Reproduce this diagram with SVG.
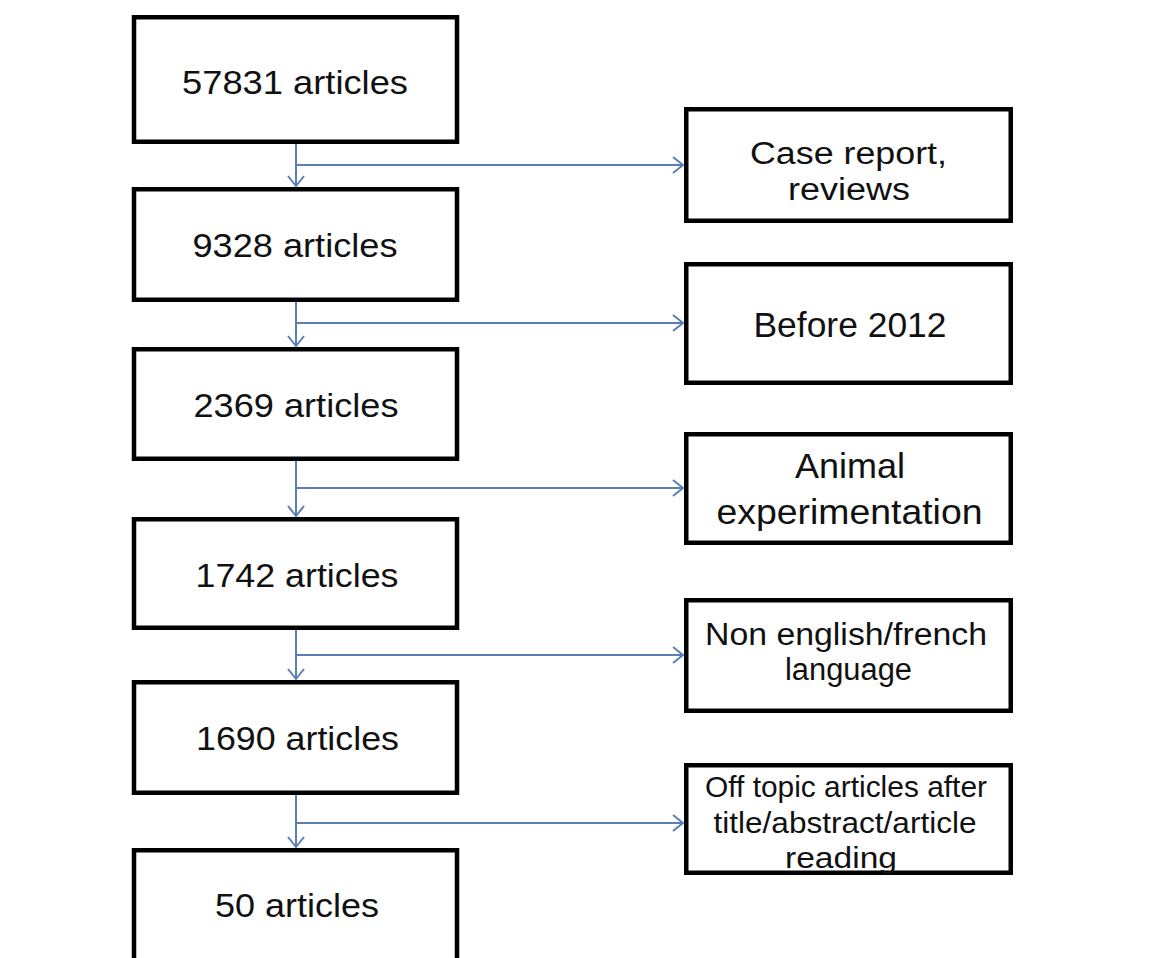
<svg xmlns="http://www.w3.org/2000/svg" width="1159" height="958" viewBox="0 0 1159 958">
<style>
.box{fill:#fff;stroke:#000;stroke-width:4.5}
.t{font-family:"Liberation Sans",Arial,sans-serif;fill:#111;text-anchor:middle}
.l{font-size:34px}
.r{font-size:35px}
.m{font-size:31px}
.s{font-size:29px}
.c{fill:none;stroke:#5a7fb8;stroke-width:2}
</style>
<defs>
<marker id="arr" markerUnits="userSpaceOnUse" markerWidth="16" markerHeight="22" viewBox="-13 -11 16 22" refX="0" refY="0" orient="auto">
<path d="M-10,-8 L0,0 L-10,8" fill="none" stroke="#5a7fb8" stroke-width="2"/>
</marker>
</defs>
<rect width="1159" height="958" fill="#fff"/>
<g id="connectors">
<line class="c" x1="296" y1="144" x2="296" y2="186" marker-end="url(#arr)"/>
<line class="c" x1="296" y1="165" x2="683" y2="165" marker-end="url(#arr)"/>
<line class="c" x1="296" y1="302" x2="296" y2="346" marker-end="url(#arr)"/>
<line class="c" x1="296" y1="323" x2="683" y2="323" marker-end="url(#arr)"/>
<line class="c" x1="296" y1="461" x2="296" y2="516" marker-end="url(#arr)"/>
<line class="c" x1="296" y1="488" x2="683" y2="488" marker-end="url(#arr)"/>
<line class="c" x1="296" y1="630" x2="296" y2="679" marker-end="url(#arr)"/>
<line class="c" x1="296" y1="655" x2="683" y2="655" marker-end="url(#arr)"/>
<line class="c" x1="296" y1="795" x2="296" y2="847" marker-end="url(#arr)"/>
<line class="c" x1="296" y1="823" x2="683" y2="823" marker-end="url(#arr)"/>
</g>
<g id="n1"><rect class="box" x="134" y="17.25" width="323" height="124.5"/><text class="t l" x="295" y="94" textLength="226" lengthAdjust="spacingAndGlyphs">57831 articles</text></g>
<g id="n2"><rect class="box" x="134" y="189.25" width="323" height="110.5"/><text class="t l" x="295" y="257" textLength="205" lengthAdjust="spacingAndGlyphs">9328 articles</text></g>
<g id="n3"><rect class="box" x="134" y="349.25" width="323" height="109.5"/><text class="t l" x="296" y="417" textLength="205" lengthAdjust="spacingAndGlyphs">2369 articles</text></g>
<g id="n4"><rect class="box" x="134" y="519.25" width="323" height="108.5"/><text class="t l" x="297" y="587" textLength="203" lengthAdjust="spacingAndGlyphs">1742 articles</text></g>
<g id="n5"><rect class="box" x="134" y="682.25" width="323" height="110.5"/><text class="t l" x="297.5" y="750" textLength="203" lengthAdjust="spacingAndGlyphs">1690 articles</text></g>
<g id="n6"><rect class="box" x="134" y="850.25" width="323" height="130"/><text class="t l" x="297" y="917" textLength="164" lengthAdjust="spacingAndGlyphs">50 articles</text></g>
<g id="r1"><rect class="box" x="686.25" y="109.25" width="324.5" height="111.5"/><text class="t m" x="848.5" y="164" textLength="197" lengthAdjust="spacingAndGlyphs">Case report,</text><text class="t m" x="849" y="200" textLength="122" lengthAdjust="spacingAndGlyphs">reviews</text></g>
<g id="r2"><rect class="box" x="686.25" y="264.25" width="324.5" height="118.5"/><text class="t r" x="850" y="337" textLength="193" lengthAdjust="spacingAndGlyphs">Before 2012</text></g>
<g id="r3"><rect class="box" x="686.25" y="434.25" width="324.5" height="108.5"/><text class="t r" x="850" y="478" textLength="110" lengthAdjust="spacingAndGlyphs">Animal</text><text class="t r" x="849.5" y="524" textLength="266" lengthAdjust="spacingAndGlyphs">experimentation</text></g>
<g id="r4"><rect class="box" x="686.25" y="600.25" width="324.5" height="110.5"/><text class="t m" x="846" y="645" textLength="282" lengthAdjust="spacingAndGlyphs">Non english/french</text><text class="t m" x="848.5" y="680" textLength="127" lengthAdjust="spacingAndGlyphs">language</text></g>
<g id="r5"><rect class="box" x="686.25" y="765.25" width="324.5" height="107.5"/><text class="t s" x="846" y="797" textLength="282" lengthAdjust="spacingAndGlyphs">Off topic articles after</text><text class="t s" x="845" y="833" textLength="263" lengthAdjust="spacingAndGlyphs">title/abstract/article</text><text class="t s" x="841" y="868" textLength="112" lengthAdjust="spacingAndGlyphs">reading</text></g>
</svg>
